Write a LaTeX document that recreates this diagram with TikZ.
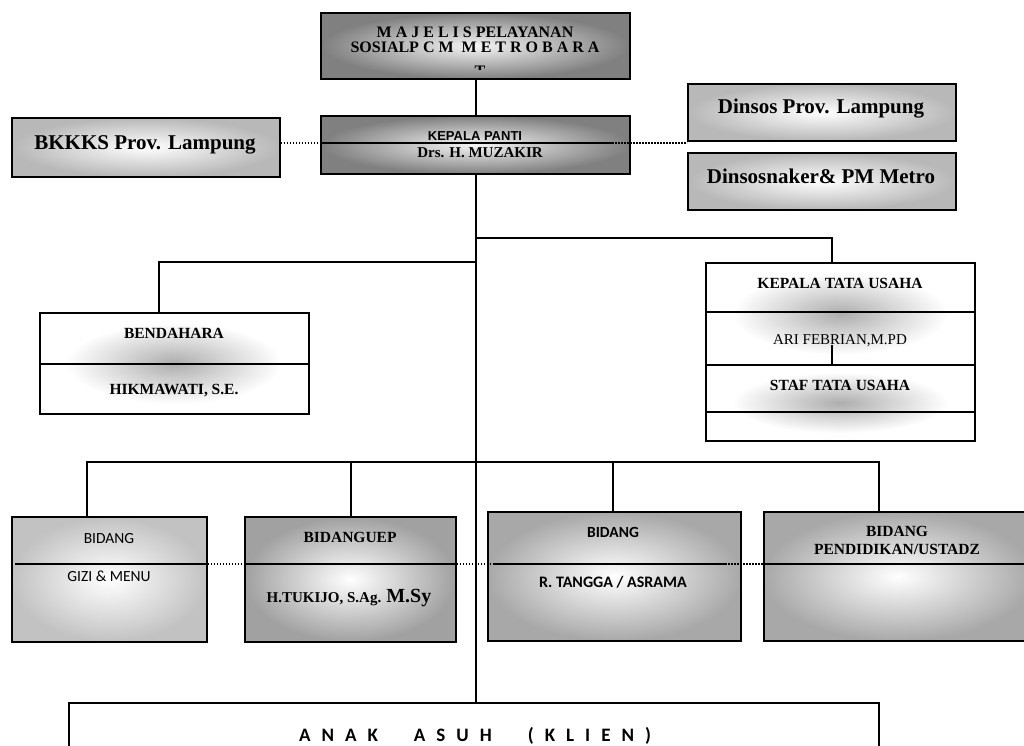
\documentclass[tikz,border=0pt]{standalone}
\usepackage{fontspec}
\setmainfont{Liberation Serif}
\newfontfamily\farl{Liberation Sans}
\newfontfamily\fcal{Carlito}
\usetikzlibrary{calc}
\pgfdeclareradialshading{blobshade}{\pgfpoint{0bp}{0bp}}{color(0bp)=(black!32); color(20bp)=(white); color(50bp)=(white)}
\newcommand{\lspc}{\hspace{11pt}}
\newcommand{\wspc}{\hspace{36pt}}
\begin{document}
\begin{tikzpicture}[x=1pt,y=-1pt,
  box/.style={draw, line width=1.6pt, inner sep=0pt, anchor=north west},
  dk/.style={inner color=white!96!black, outer color=black!50},
  lgt/.style={inner color=white, outer color=black!28},
  bl/.style={shade, shading=blobshade},
  ln/.style={line width=1.6pt},
  dotl/.style={line width=1.6pt, dash pattern=on 1.6pt off 1.4pt},
  tnr/.style={inner sep=0pt, anchor=base, font=\bfseries\fontsize{#1}{#1}\selectfont},
  tnrr/.style={inner sep=0pt, anchor=base, font=\fontsize{#1}{#1}\selectfont},
  arl/.style={inner sep=0pt, anchor=base, font=\farl\bfseries\fontsize{#1}{#1}\selectfont},
  calr/.style={inner sep=0pt, anchor=base, font=\fcal\fontsize{#1}{#1}\selectfont},
  calb/.style={inner sep=0pt, anchor=base, font=\fcal\bfseries\fontsize{#1}{#1}\selectfont}]
\useasboundingbox[fill=white] (0,0) rectangle (1024,745);

% boxes
\node[box,dk,minimum width=309pt,minimum height=66pt] (maj) at (320,12) {};
\node[box,dk,minimum width=309pt,minimum height=58pt] (kp) at (320,115) {};
\node[box,lgt,minimum width=268pt,minimum height=59pt] (bk) at (11,117) {};
\node[box,lgt,minimum width=268pt,minimum height=57pt] (ds1) at (687,83) {};
\node[box,lgt,minimum width=268pt,minimum height=57pt] (ds2) at (687,152) {};
\node[box,bl,minimum width=269pt,minimum height=101pt] (bend) at (39,312) {};
\node[box,bl,minimum width=269pt,minimum height=102pt] (ktuA) at (705,262) {};
\node[box,bl,minimum width=269pt,minimum height=76pt] (ktuB) at (705,364) {};
\node[box,inner color=white,outer color=black!24,minimum width=195pt,minimum height=125pt] (gizi) at (11,516) {};
\node[box,inner color=white,outer color=black!37,minimum width=211pt,minimum height=125pt] (uep) at (244,516) {};
\node[box,inner color=white,outer color=black!34,minimum width=253pt,minimum height=129pt] (rt) at (487,511) {};
\node[box,inner color=white,outer color=black!34,minimum width=268pt,minimum height=129pt] (pend) at (763,511) {};
\node[box,fill=white,minimum width=810pt,minimum height=80pt] (anak) at (68,702) {};

% helper coordinates
\coordinate (sp) at (476,0);
\coordinate (kpd) at (0,143);
\coordinate (kpe) at (612,143);
\coordinate (lb) at (159,262);
\coordinate (rb) at (832,238);
\coordinate (stub) at (832,345);
\coordinate (b1) at (87,462);
\coordinate (b2) at (351,462);
\coordinate (b3) at (613,462);
\coordinate (b4) at (879,462);
\coordinate (bd) at (0,564);
\coordinate (gzl) at (15,564);
\coordinate (rtl) at (494,564);
\coordinate (rtr) at (725,564);

% connectors
\draw[ln] (maj.south -| sp) -- (kp.north -| sp);
\draw[ln] (kp.south -| sp) -- (anak.north -| sp);
\draw[ln] (lb -| sp) -- (lb) -- (lb |- bend.north);
\draw[ln] (rb -| sp) -- (rb) -- (rb |- ktuA.north);
\draw[ln] (stub) -- (stub |- ktuB.north);
\draw[ln] (b1 |- gizi.north) -- (b1) -- (b4) -- (b4 |- pend.north);
\draw[ln] (b2) -- (b2 |- uep.north);
\draw[ln] (b3) -- (b3 |- rt.north);

% dividers
\draw[ln] (kp.west |- kpd) -- (kpe);
\draw[ln] (bend.west |- ktuB.north) -- (bend.east |- ktuB.north);
\draw[ln] (ktuA.west |- 0,312) -- (ktuA.east |- 0,312);
\draw[ln] (ktuB.west |- 0,412) -- (ktuB.east |- 0,412);
\draw[ln] (gzl) -- (gizi.east |- bd);
\draw[ln] (uep.west |- bd) -- (uep.east |- bd);
\draw[ln] (rtl) -- (rtr);
\draw[ln] (pend.west |- bd) -- (pend.east |- bd);

% dotted links
\draw[dotl] (bk.east |- kpd) -- (kp.west |- kpd);
\draw[dotl] (kpe) -- (ds1.west |- kpd);
\draw[dotl] (gizi.east |- bd) -- (uep.west |- bd);
\draw[dotl] (uep.east |- bd) -- (rtl);
\draw[dotl] (rtr) -- (pend.west |- bd);

% texts
\node[tnr=16] (m1) at (475,37) {M A J E L I S PELAYANAN};
\node[tnr=16] (m2) at (475,52) {SOSIALP C M\ \ M E T R O B A R A};
\begin{scope}
\clip (320,12) rectangle (629,69);
\node[tnr=16] (m3) at (480,76) {T};
\end{scope}
\node[arl=13] (kp1) at (475,140) {KEPALA PANTI};
\node[tnr=15] (kp2) at (480,157) {Drs. H. MUZAKIR};
\node[tnr=21] (bk1) at (145,149) {BKKKS Prov. Lampung};
\node[tnr=21] (ds1t) at (821,113) {Dinsos Prov. Lampung};
\node[tnr=21] (ds2t) at (821,183) {Dinsosnaker\& PM Metro};
\node[tnr=15.5] (be1) at (174,338) {BENDAHARA};
\node[tnr=15.5] (be2) at (174,394) {HIKMAWATI, S.E.};
\node[tnr=15.5] (kt1) at (840,288) {KEPALA TATA USAHA};
\node[tnrr=15] (kt2) at (840,344) {ARI FEBRIAN,M.PD};
\node[tnr=15.5] (kt3) at (840,390) {STAF TATA USAHA};
\node[calr=15.5] (gz1) at (109,543) {BIDANG};
\node[calr=15.5] (gz2) at (109,581) {GIZI \& MENU};
\node[tnr=15.5] (ue1) at (350,542) {BIDANGUEP};
\node[tnr=15] (ue2) at (349,602) {H.TUKIJO, S.Ag. {\fontsize{20}{20}\selectfont M.Sy}};
\node[calb=15.5] (rt1) at (613,537) {BIDANG};
\node[calb=16] (rt2) at (613,587) {R. TANGGA / ASRAMA};
\node[tnr=15.5] (pd1) at (897,536) {BIDANG};
\node[tnr=15.5] (pd2) at (897,554) {PENDIDIKAN/USTADZ};
\node[calb=19] (an1) at (475,741) {A\lspc N\lspc A\lspc K\wspc A\lspc S\lspc U\lspc H\wspc (\lspc K\lspc L\lspc I\lspc E\lspc N\lspc )};
\end{tikzpicture}
\end{document}
